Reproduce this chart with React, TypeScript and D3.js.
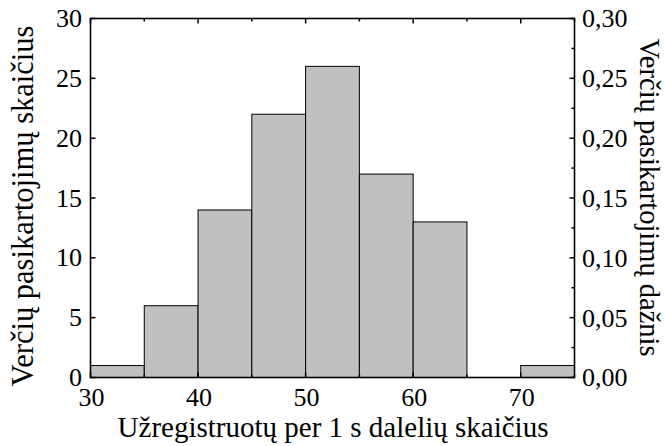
import React from "react";
import * as d3 from "d3";

// Histogram bins: lower edge of each 5-wide bin and the count in it
const binStarts = [30, 35, 40, 45, 50, 55, 60, 65, 70];
const binCounts = [1, 6, 14, 22, 26, 17, 13, 0, 1];
const binWidth = 5;

const xTicks = [30, 40, 50, 60, 70];
const xMinorTicks = [35, 45, 55, 65, 75];
const yLeftTicks = [0, 5, 10, 15, 20, 25, 30];
const yRightTicks = [0, 0.05, 0.1, 0.15, 0.2, 0.25, 0.3];
const yRightMinor = [0.025, 0.075, 0.125, 0.175, 0.225, 0.275];

const xTitle = "Užregistruotų per 1 s dalelių skaičius";
const yLeftTitle = "Verčių pasikartojimų skaičius";
const yRightTitle = "Verčių pasikartojimų dažnis";

const W = 665;
const H = 446;
const left = 90.5;
const right = 574.5;
const top = 18.5;
const bottom = 377.5;

const font = "'Liberation Serif', 'Times New Roman', serif";
const tickSize = 26;

export default function App() {
  const x = d3.scaleLinear().domain([30, 75]).range([left, right]);
  const y = d3.scaleLinear().domain([0, 30]).range([bottom, top]);
  const yR = d3.scaleLinear().domain([0, 0.3]).range([bottom, top]);
  const fmt = (v: number) => v.toFixed(2).replace(".", ",");
  const tick = 5;
  const minor = 3;

  return (
    <svg width={W} height={H} style={{ position: "absolute", left: 0, top: 0, background: "#fff" }}>
      {/* bars */}
      {binStarts.map((s, i) =>
        binCounts[i] > 0 ? (
          <rect
            key={s}
            x={x(s)}
            y={y(binCounts[i])}
            width={x(s + binWidth) - x(s)}
            height={y(0) - y(binCounts[i])}
            fill="#c0c0c0"
            stroke="#000"
            strokeWidth={1}
          />
        ) : null
      )}

      {/* frame */}
      <rect x={left} y={top} width={right - left} height={bottom - top} fill="none" stroke="#000" strokeWidth={1.6} />

      {/* bottom and top ticks */}
      {xTicks.map((t) => (
        <g key={"xt" + t}>
          <line x1={x(t)} x2={x(t)} y1={bottom} y2={bottom - tick} stroke="#000" strokeWidth={1.5} />
          <line x1={x(t)} x2={x(t)} y1={top} y2={top + tick} stroke="#000" strokeWidth={1.5} />
          <text x={x(t) + 1} y={406} textAnchor="middle" fontFamily={font} fontSize={tickSize}>
            {t}
          </text>
        </g>
      ))}
      {xMinorTicks.map((t) => (
        <g key={"xm" + t}>
          <line x1={x(t)} x2={x(t)} y1={bottom} y2={bottom - minor} stroke="#000" strokeWidth={1.5} />
          <line x1={x(t)} x2={x(t)} y1={top} y2={top + minor} stroke="#000" strokeWidth={1.5} />
        </g>
      ))}

      {/* left axis */}
      {yLeftTicks.map((t) => (
        <g key={"yl" + t}>
          <line x1={left} x2={left + tick} y1={y(t)} y2={y(t)} stroke="#000" strokeWidth={1.5} />
          <text x={82} y={y(t)} dy="0.33em" textAnchor="end" fontFamily={font} fontSize={tickSize}>
            {t}
          </text>
        </g>
      ))}

      {/* right axis */}
      {yRightTicks.map((t) => (
        <g key={"yr" + t}>
          <line x1={right} x2={right - tick} y1={yR(t)} y2={yR(t)} stroke="#000" strokeWidth={1.5} />
          <text x={582} y={yR(t)} dy="0.34em" textAnchor="start" fontFamily={font} fontSize={tickSize}>
            {fmt(t)}
          </text>
        </g>
      ))}
      {yRightMinor.map((t) => (
        <line key={"yrm" + t} x1={right} x2={right - minor} y1={yR(t)} y2={yR(t)} stroke="#000" strokeWidth={1.5} />
      ))}

      {/* titles */}
      <text x={333} y={437} textAnchor="middle" fontFamily={font} fontSize={29}>
        {xTitle}
      </text>
      <text
        transform={`translate(33, 206) rotate(-90)`}
        textAnchor="middle"
        fontFamily={font}
        fontSize={30.5}
      >
        {yLeftTitle}
      </text>
      <text
        transform={`translate(640, 197.5) rotate(90)`}
        textAnchor="middle"
        fontFamily={font}
        fontSize={28.5}
      >
        {yRightTitle}
      </text>
    </svg>
  );
}
